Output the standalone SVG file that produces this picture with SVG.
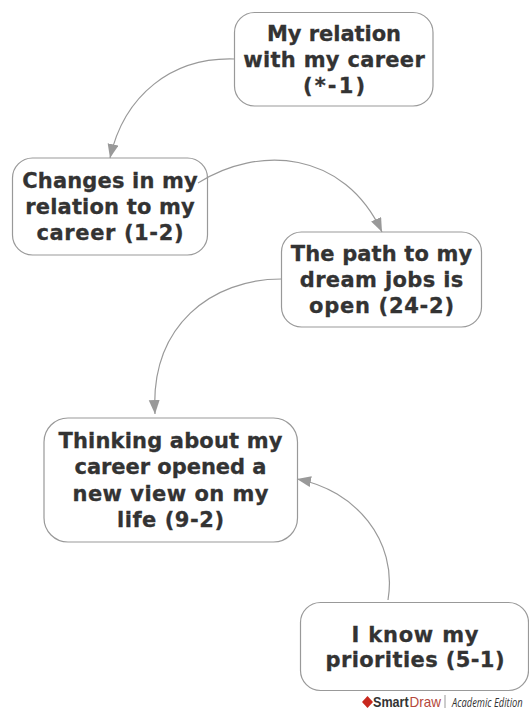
<svg xmlns="http://www.w3.org/2000/svg" width="529" height="709" viewBox="0 0 529 709">
<style>
.box{fill:#fff;stroke:#999;stroke-width:1.2}
.t{font-family:"DejaVu Sans",Verdana,sans-serif;font-weight:700;font-size:21px;fill:#333;stroke:#333;stroke-width:.3;text-anchor:middle}
.c{fill:none;stroke:#999;stroke-width:1.2}
.l{font-family:"Liberation Sans",Arial,sans-serif;font-size:15px}
</style>
<defs><marker id="a" markerUnits="userSpaceOnUse" markerWidth="16" markerHeight="12" refX="14" refY="5.5" orient="auto"><path d="M0 0L14 5.5L0 11Z" fill="#999"/></marker></defs>
<rect width="529" height="709" fill="#fff"/>
<g id="nodes">
<g id="n1"><rect class="box" x="234.500" y="12.500" width="198.500" height="93.500" rx="20"/><text class="t" x="334" y="41" textLength="134">My relation</text><text class="t" x="334" y="67" textLength="181.500">with my career</text><text class="t" x="334" y="93" textLength="62">(*-1)</text></g>
<g id="n2"><rect class="box" x="12.500" y="158" width="195" height="97" rx="20"/><text class="t" x="110" y="188" textLength="175.500">Changes in my</text><text class="t" x="110" y="214" textLength="169.500">relation to my</text><text class="t" x="110" y="240" textLength="147">career (1-2)</text></g>
<g id="n3"><rect class="box" x="281.500" y="232" width="200" height="95" rx="20"/><text class="t" x="381.500" y="261" textLength="181.500">The path to my</text><text class="t" x="381.500" y="287" textLength="163.500">dream jobs is</text><text class="t" x="381.500" y="313" textLength="145">open (24-2)</text></g>
<g id="n4"><rect class="box" x="44" y="418" width="253.500" height="124" rx="24"/><text class="t" x="170.500" y="448" textLength="224">Thinking about my</text><text class="t" x="170.500" y="474" textLength="192">career opened a</text><text class="t" x="170.500" y="501" textLength="196">new view on my</text><text class="t" x="170.500" y="527" textLength="107">life (9-2)</text></g>
<g id="n5"><rect class="box" x="300.500" y="602.500" width="228" height="88" rx="20"/><text class="t" x="415" y="642" textLength="127">I know my</text><text class="t" x="415" y="667" textLength="179">priorities (5-1)</text></g>
</g>
<g id="connectors">
<path class="c" marker-end="url(#a)" d="M234.500 59C172 57 124 95 110 158"/>
<path class="c" marker-end="url(#a)" d="M198 183C258 145 344 150 382 232"/>
<path class="c" marker-end="url(#a)" d="M281.500 279C212 279 150 325 155 414"/>
<path class="c" marker-end="url(#a)" d="M388 600C398 540 355 490 297 479"/>
</g>
<g id="logo">
<path d="M367.500 696L373 702L367.500 708L362 702Z" fill="#c8281e"/>
<text class="l" transform="translate(373 707) scale(.84 1)" font-weight="700" fill="#333">Smart</text>
<text class="l" transform="translate(409.500 707) scale(.9 1)" fill="#b5483c">Draw</text>
<path d="M445 695V708" stroke="#999" fill="none"/>
<text transform="translate(452 707) scale(.78 1)" font-family="'Open Sans',sans-serif" font-size="12" font-style="italic" fill="#333">Academic Edition</text>
</g>
</svg>
